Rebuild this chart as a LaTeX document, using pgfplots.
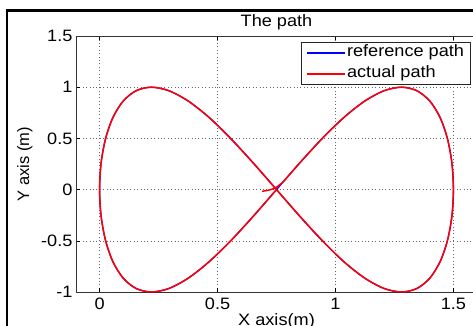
\documentclass[border=0pt]{standalone}
\usepackage{pgfplots}
\usepackage{pgfplotstable}
\pgfplotsset{compat=1.18}
\usepackage{fontspec}
\setmainfont{Liberation Sans}[FakeStretch=1.1]
\newfontfamily\ylabfont{Liberation Sans}
\newcommand{\figfont}{\fontsize{16.5}{19}\selectfont}

% reference trajectory (figure eight)
\pgfplotstableread{
x y
0.7500 0.0000
0.8479 0.2588
0.9441 0.5000
1.0370 0.7071
1.1250 0.8660
1.2066 0.9659
1.2803 1.0000
1.3450 0.9659
1.3995 0.8660
1.4429 0.7071
1.4744 0.5000
1.4936 0.2588
1.5000 0.0000
1.4936 -0.2588
1.4744 -0.5000
1.4429 -0.7071
1.3995 -0.8660
1.3450 -0.9659
1.2803 -1.0000
1.2066 -0.9659
1.1250 -0.8660
1.0370 -0.7071
0.9441 -0.5000
0.8479 -0.2588
0.7500 0.0000
0.6521 0.2588
0.5559 0.5000
0.4630 0.7071
0.3750 0.8660
0.2934 0.9659
0.2197 1.0000
0.1550 0.9659
0.1005 0.8660
0.0571 0.7071
0.0256 0.5000
0.0064 0.2588
0.0000 0.0000
0.0064 -0.2588
0.0256 -0.5000
0.0571 -0.7071
0.1005 -0.8660
0.1550 -0.9659
0.2197 -1.0000
0.2934 -0.9659
0.3750 -0.8660
0.4630 -0.7071
0.5559 -0.5000
0.6521 -0.2588
0.7500 0.0000
}\refpath

% measured trajectory of the vehicle
\pgfplotstableread{
x y
0.6890 -0.0170
0.7150 -0.0060
0.7420 0.0140
0.7720 0.0620
0.8000 0.1330
0.8479 0.2588
0.9441 0.5000
1.0370 0.7071
1.1250 0.8660
1.2066 0.9659
1.2803 1.0000
1.3450 0.9659
1.3995 0.8660
1.4429 0.7071
1.4744 0.5000
1.4936 0.2588
1.5000 0.0000
1.4936 -0.2588
1.4744 -0.5000
1.4429 -0.7071
1.3995 -0.8660
1.3450 -0.9659
1.2803 -1.0000
1.2066 -0.9659
1.1250 -0.8660
1.0370 -0.7071
0.9460 -0.5020
0.8490 -0.2600
0.7500 0.0000
0.6510 0.2600
0.5540 0.5020
0.4630 0.7071
0.3750 0.8660
0.2934 0.9659
0.2197 1.0000
0.1550 0.9659
0.1005 0.8660
0.0571 0.7071
0.0256 0.5000
0.0064 0.2588
0.0000 0.0000
0.0064 -0.2588
0.0256 -0.5000
0.0571 -0.7071
0.1005 -0.8660
0.1550 -0.9659
0.2197 -1.0000
0.2934 -0.9659
0.3750 -0.8660
0.4630 -0.7071
0.5559 -0.5000
0.6521 -0.2588
0.7500 0.0000
}\actpath

\begin{document}
\begin{tikzpicture}[x=1pt,y=1pt]
\begin{axis}[
  at={(0,0)}, anchor=south west,
  scale only axis, width=401pt, height=256pt,
  xmin=-0.1, xmax=1.6, ymin=-1, ymax=1.5,
  xtick={0,0.5,1,1.5}, xticklabels={0,0.5,1,1.5},
  ytick={-1,-0.5,0,0.5,1,1.5}, yticklabels={-1,-0.5,0,0.5,1,1.5},
  tick align=inside, major tick length=4pt,
  tick style={black, line width=0.6pt},
  axis line style={black!80, line width=0.8pt},
  grid=major,
  major grid style={black!60, line width=0.6pt, dash pattern=on 0.8pt off 2.6pt},
  ticklabel style={font=\figfont},
  xticklabel style={anchor=base, yshift=-17pt},
  xlabel={X axis(m)},
  xlabel style={at={(axis description cs:0.5,-0.1289)}, anchor=base, font=\figfont},
  ylabel={Y axis (m)},
  ylabel style={at={(axis description cs:-0.1172,0.5)}, anchor=base, font=\ylabfont\fontsize{16.5}{19}\selectfont},
  legend cell align=left,
  legend image code/.code={\draw[#1] (0pt,0pt) -- (38pt,0pt);},
  legend style={at={(axis description cs:0.985,0.9766)}, anchor=north east,
    draw=black!85, line width=0.8pt, fill=white,
    inner xsep=5pt, inner ysep=0pt, font=\figfont,
    nodes={inner xsep=1.5pt, inner ysep=2.5pt, text height=12pt, text depth=4pt},
    /tikz/every odd column/.style={column sep=0pt}},
  clip mode=individual,
]
\addplot[blue, line width=1.3pt, smooth] table {\refpath};
\addlegendentry{reference path}
\addplot[red, line width=1.5pt, smooth] table {\actpath};
\addlegendentry{actual path}
% title of the figure
\node[anchor=base, font=\figfont] at (axis description cs:0.5,1.039) {The path};
\end{axis}
% figure frame
\draw[black, line width=2.8pt] (-69,281.5) rectangle (430,-70);
\pgfresetboundingbox
\useasboundingbox (-76,-34) rectangle (397,292);
\end{tikzpicture}
\end{document}
